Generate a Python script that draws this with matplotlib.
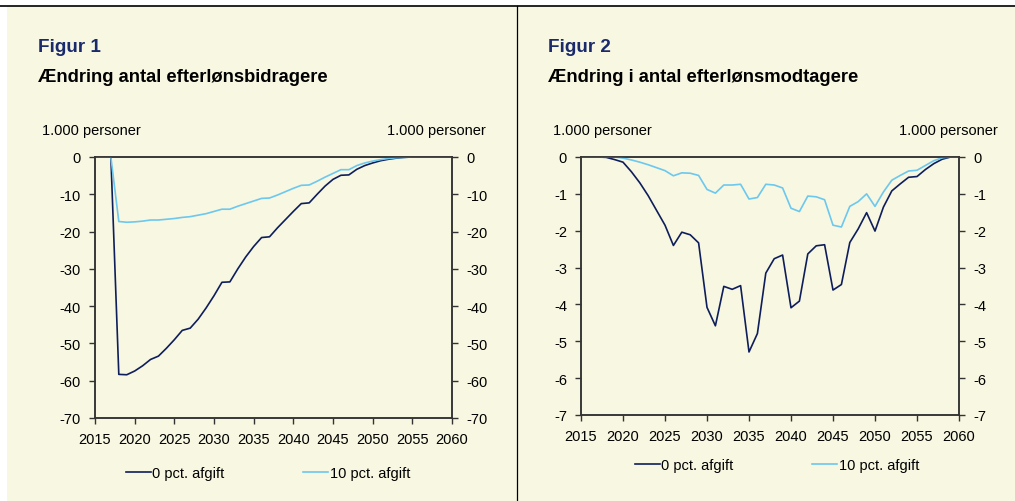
import matplotlib
matplotlib.use("Agg")
import matplotlib.pyplot as plt
from matplotlib.patches import Rectangle

plt.rcParams['font.family'] = ['Liberation Sans', 'DejaVu Sans']

years = list(range(2015, 2061))

# Figur 1: change in number of contributors (1.000 persons)
bidrag_0 = [0, 0, 0, -58.3, -58.4, -57.4, -56.0, -54.3, -53.4, -51.3,
            -49.0, -46.5, -45.9, -43.5, -40.5, -37.2, -33.6, -33.5, -30.0, -26.8,
            -24.0, -21.6, -21.4, -19.0, -16.8, -14.6, -12.5, -12.3, -10.0, -7.8,
            -6.0, -4.9, -4.8, -3.3, -2.3, -1.6, -1.0, -0.6, -0.3, -0.1,
            0, 0, 0, 0, 0, 0]
bidrag_10 = [0, 0, 0, -17.3, -17.5, -17.4, -17.2, -16.9, -16.9, -16.7,
             -16.5, -16.2, -16.0, -15.6, -15.2, -14.6, -14.0, -14.0, -13.2, -12.5,
             -11.8, -11.1, -11.0, -10.2, -9.3, -8.4, -7.6, -7.5, -6.5, -5.4,
             -4.4, -3.4, -3.4, -2.3, -1.6, -1.1, -0.7, -0.4, -0.2, -0.1,
             0, 0, 0, 0, 0, 0]

# Figur 2: change in number of recipients (1.000 persons)
modtag_0 = [0, 0, 0, -0.01, -0.07, -0.14, -0.40, -0.70, -1.05, -1.45,
            -1.85, -2.40, -2.04, -2.11, -2.33, -4.08, -4.58, -3.51, -3.59, -3.49,
            -5.29, -4.79, -3.15, -2.76, -2.66, -4.09, -3.91, -2.63, -2.41, -2.38,
            -3.61, -3.46, -2.32, -1.95, -1.51, -2.01, -1.36, -0.92, -0.73, -0.55,
            -0.53, -0.34, -0.18, -0.06, 0, 0]
modtag_10 = [0, 0, 0, 0, 0, -0.03, -0.08, -0.14, -0.21, -0.29,
             -0.37, -0.51, -0.43, -0.44, -0.50, -0.88, -0.98, -0.76, -0.76, -0.74,
             -1.14, -1.10, -0.74, -0.76, -0.84, -1.39, -1.48, -1.06, -1.08, -1.16,
             -1.85, -1.90, -1.34, -1.21, -1.00, -1.34, -0.95, -0.63, -0.50, -0.38,
             -0.36, -0.23, -0.10, -0.02, 0, 0]

series_labels = ['0 pct. afgift', '10 pct. afgift']
dark = '#0E1E5B'
light = '#6CC8EE'
cream = '#F8F7E2'
navy_title = '#1A2A6C'

W, H = 1015, 502
fig = plt.figure(figsize=(W / 100, H / 100), dpi=100)
fig.patch.set_facecolor('white')

# background panel behind everything (pixel coordinates)
bg = fig.add_axes([0, 0, 1, 1], zorder=-10)
bg.set_xlim(0, W)
bg.set_ylim(H, 0)
bg.axis('off')
bg.add_patch(Rectangle((7, 7), W - 7, H - 7, facecolor=cream, edgecolor='none'))
bg.plot([0, W], [7, 7], color='black', lw=1.2)
bg.plot([517, 517], [7, H], color='black', lw=0.9)


def make_panel(box, ylim, ystep, data0, data10, fig_label, title, unit_x, leg_xy):
    left, top, right, bottom = box
    ax = fig.add_axes([left / W, 1 - bottom / H, (right - left) / W, (bottom - top) / H])
    ax.set_facecolor('none')
    ax.plot(years, data0, color=dark, lw=1.2, label=series_labels[0], zorder=3)
    ax.plot(years, data10, color=light, lw=1.2, label=series_labels[1], zorder=3)
    ax.set_xlim(2015, 2060)
    ax.set_ylim(*ylim)
    ax.set_xticks(range(2015, 2061, 5))
    n = int(round((ylim[1] - ylim[0]) / ystep))
    ticks = [ylim[1] - i * ystep for i in range(n + 1)]
    ax.set_yticks(ticks)
    ax.set_yticklabels([f'{t:g}' for t in ticks])
    ax2 = ax.twinx()
    ax2.set_ylim(*ylim)
    ax2.set_yticks(ticks)
    ax2.set_yticklabels([f'{t:g}' for t in ticks])
    for a in (ax, ax2):
        a.tick_params(direction='out', length=4, width=1, labelsize=10.5, colors='#333333',
                      labelcolor='black', pad=6)
        for s in a.spines.values():
            s.set_color('#333333')
            s.set_linewidth(1.1)
    fig.text(unit_x[0] / W, 1 - 131 / H, '1.000 personer', fontsize=10.5, ha='left', va='center')
    fig.text(unit_x[1] / W, 1 - 131 / H, '1.000 personer', fontsize=10.5, ha='right', va='center')
    fig.text(fig_label[0] / W, 1 - fig_label[1] / H, fig_label[2], fontsize=13.6,
             fontweight='bold', color=navy_title, ha='left', va='center')
    fig.text(fig_label[0] / W, 1 - (fig_label[1] + 30) / H, title, fontsize=13.2,
             fontweight='bold', color='black', ha='left', va='center')
    ax.legend(loc='center', bbox_to_anchor=(leg_xy[0] / W, 1 - leg_xy[1] / H),
              bbox_transform=fig.transFigure, ncol=2,
              frameon=False, fontsize=10.5, handlelength=1.7, handletextpad=0.1,
              columnspacing=5.4)
    return ax


make_panel((95, 158, 452, 419), (-70, 0), 10, bidrag_0, bidrag_10,
           (38, 48, 'Figur 1'), 'Ændring antal efterlønsbidragere', (42, 486), (268, 474))
make_panel((581, 158, 959, 416), (-7, 0), 1, modtag_0, modtag_10,
           (548, 48, 'Figur 2'), 'Ændring i antal efterlønsmodtagere', (553, 998), (777, 466))

fig.savefig('out.png', dpi=100, facecolor=fig.get_facecolor())
